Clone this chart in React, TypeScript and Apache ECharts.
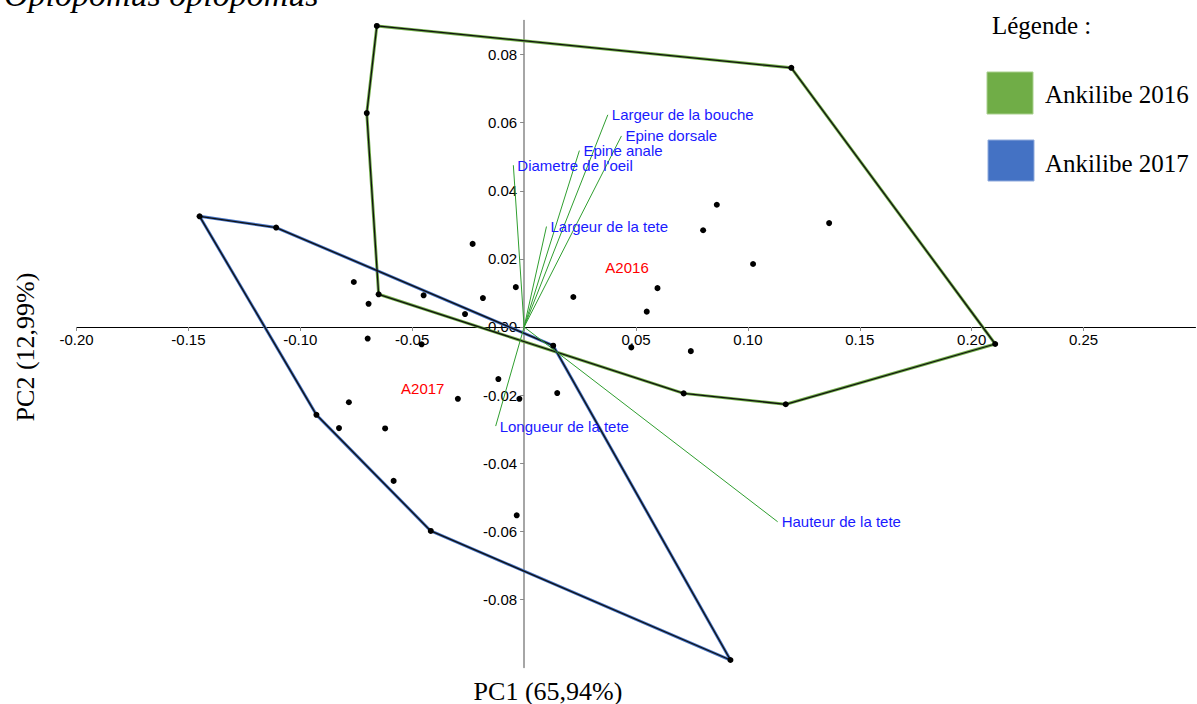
import React, { useEffect, useRef } from "react";
import * as echarts from "echarts";

// ---- Data (PC1, PC2 scores) ----
// Ankilibe 2016: first 7 points are the convex hull vertices
const points2016: number[][] = [
  [-0.0658, 0.0884], [-0.0703, 0.0628], [-0.065, 0.0096], [0.0713, -0.0195],
  [0.1169, -0.0227], [0.2105, -0.005], [0.1194, 0.0761],
  [0.0861, 0.0359], [0.08, 0.0284], [0.1363, 0.0305], [0.1023, 0.0185],
  [0.0596, 0.0114], [0.0548, 0.0045], [0.022, 0.0088], [0.0479, -0.006],
  [0.0745, -0.0071], [-0.0037, 0.0117], [-0.023, 0.0244], [-0.0184, 0.0085],
  [-0.0449, 0.0093],
];
const hull2016: number[] = [0, 1, 2, 3, 4, 5, 6, 0];

// Ankilibe 2017: first 6 points are the convex hull vertices
const points2017: number[][] = [
  [-0.145, 0.0325], [-0.1108, 0.0292], [0.013, -0.0055], [0.0922, -0.0978],
  [-0.0417, -0.0599], [-0.0928, -0.0258],
  [-0.0761, 0.0132], [-0.0695, 0.0068], [-0.0699, -0.0034], [-0.0458, -0.0051],
  [-0.0264, 0.0038], [-0.0115, -0.0153], [0.0148, -0.0194], [-0.0296, -0.0211],
  [-0.0021, -0.0211], [-0.0783, -0.0221], [-0.0827, -0.0297], [-0.0621, -0.0298],
  [-0.0583, -0.0452], [-0.0033, -0.0553],
];
const hull2017: number[] = [0, 1, 2, 3, 4, 5, 0];

// Variable loadings
const loadingNames: string[] = [
  "Largeur de la bouche", "Epine dorsale", "Epine anale", "Diametre de l'oeil",
  "Largeur de la tete", "Longueur de la tete", "Hauteur de la tete",
];
const loadingPC1: number[] = [0.0374, 0.0435, 0.0247, -0.0048, 0.01, -0.0127, 0.1133];
const loadingPC2: number[] = [0.0623, 0.0561, 0.0518, 0.0475, 0.0295, -0.0291, -0.0572];

// Group labels
const groupNames: string[] = ["A2016", "A2017"];
const groupPC1: number[] = [0.046, -0.0453];
const groupPC2: number[] = [0.0176, -0.0182];

const legendNames: string[] = ["Ankilibe 2016", "Ankilibe 2017"];
const groupColors: string[] = ["#70AD47", "#4472C4"];

// Axis ranges
const X_MIN = -0.2, X_MAX = 0.3, X_STEP = 0.05;
const Y_MIN = -0.1, Y_MAX = 0.09, Y_STEP = 0.02;

const SANS = "'Liberation Sans', Arial, Helvetica, sans-serif";
const SERIF = "'Liberation Serif', 'Times New Roman', serif";

const near = (a: number, b: number) => Math.abs(a - b) < 1e-9;

export default function App() {
  const ref = useRef<HTMLDivElement>(null);

  useEffect(() => {
    if (!ref.current) return;
    const chart = echarts.init(ref.current, undefined, { renderer: "svg" });

    const W = 1197, H = 704;
    const gLeft = 76.5, gRight = 1.5, gTop = 20.5, gBottom = 36.5;
    const gW = W - gLeft - gRight;
    const gH = H - gTop - gBottom;
    // place axes through the origin (labels follow)
    const xAxisOffset = -((0 - Y_MIN) / (Y_MAX - Y_MIN)) * gH;
    const yAxisOffset = -((0 - X_MIN) / (X_MAX - X_MIN)) * gW;

    const hullSeries = (pts: number[][], order: number[], color: string, name: string) => [
      {
        name: name + " hull",
        type: "line",
        data: order.map((i) => pts[i]),
        symbol: "none",
        silent: true,
        z: 2,
        lineStyle: { color, width: 3, opacity: 1 },
      },
      {
        name: name + " hull outline",
        type: "line",
        data: order.map((i) => pts[i]),
        symbol: "none",
        silent: true,
        z: 3,
        lineStyle: { color: "#111", width: 1.3, opacity: 1 },
      },
    ];

    const loadingLines = loadingNames.map((n, i) => ({
      name: n,
      type: "line",
      data: [
        [0, 0],
        [loadingPC1[i], loadingPC2[i]],
      ],
      symbol: "none",
      silent: true,
      z: 4,
      lineStyle: { color: "#2f9e2f", width: 1, opacity: 1 },
    }));

    const option: any = {
      animation: false,
      backgroundColor: "#fff",
      grid: { left: gLeft, right: gRight, top: gTop, bottom: gBottom, containLabel: false, outerBoundsMode: "none" },
      xAxis: {
        type: "value",
        min: X_MIN,
        max: X_MAX,
        interval: X_STEP,
        offset: xAxisOffset,
        axisLine: { show: true, onZero: false, lineStyle: { color: "#000", width: 1 } },
        axisTick: { show: true, length: 4, lineStyle: { color: "#888" } },
        axisLabel: {
          show: true,
          margin: 5,
          fontSize: 15,
          fontFamily: SANS,
          color: "#000",
          showMaxLabel: false,
          formatter: (v: number) => (near(v, 0) || v > X_MAX - 0.01 ? "" : v.toFixed(2)),
        },
        splitLine: { show: false },
      },
      yAxis: {
        type: "value",
        min: Y_MIN,
        max: Y_MAX,
        interval: Y_STEP,
        offset: yAxisOffset,
        axisLine: { show: true, onZero: false, lineStyle: { color: "#888", width: 1.5 } },
        axisTick: { show: true, length: 4, lineStyle: { color: "#888" } },
        axisLabel: {
          show: true,
          margin: 7,
          fontSize: 15,
          fontFamily: SANS,
          color: "#000",
          showMinLabel: false,
          showMaxLabel: false,
          formatter: (v: number) =>
            v < Y_MIN + 0.001 || v > Y_MAX - 0.005 ? "" : v.toFixed(2),
        },
        splitLine: { show: false },
      },
      series: [
        ...hullSeries(points2016, hull2016, groupColors[0], legendNames[0]),
        ...hullSeries(points2017, hull2017, groupColors[1], legendNames[1]),
        ...loadingLines,
        {
          name: legendNames[0],
          type: "scatter",
          data: points2016,
          symbol: "circle",
          symbolSize: 6,
          z: 6,
          itemStyle: { color: "#000", opacity: 1 },
        },
        {
          name: legendNames[1],
          type: "scatter",
          data: points2017,
          symbol: "circle",
          symbolSize: 6,
          z: 6,
          itemStyle: { color: "#000", opacity: 1 },
        },
        {
          name: "Variables",
          type: "scatter",
          symbolSize: 0,
          z: 7,
          itemStyle: { opacity: 1 },
          data: loadingNames.map((n, i) => ({ name: n, value: [loadingPC1[i], loadingPC2[i]] })),
          label: {
            show: true,
            position: "right",
            distance: 4,
            formatter: (p: any) => p.name,
            color: "#1a1aff",
            opacity: 1,
            fontSize: 15,
            fontFamily: SANS,
          },
        },
        {
          name: "Groupes",
          type: "scatter",
          symbolSize: 0,
          z: 7,
          itemStyle: { opacity: 1 },
          data: groupNames.map((n, i) => ({ name: n, value: [groupPC1[i], groupPC2[i]] })),
          label: {
            show: true,
            position: "inside",
            formatter: (p: any) => p.name,
            color: "#ff0000",
            opacity: 1,
            fontSize: 15,
            fontFamily: SANS,
          },
        },
      ],
      graphic: [
        {
          type: "text",
          x: 4,
          y: -6,
          style: {
            text: "Oplopomus oplopomus",
            fontFamily: SERIF,
            fontStyle: "italic",
            fontSize: 34,
            fill: "#000",
            align: "left",
            verticalAlign: "middle",
          },
        },
        {
          type: "text",
          x: 548,
          y: 691,
          style: {
            text: "PC1 (65,94%)",
            fontFamily: SERIF,
            fontSize: 26,
            fill: "#000",
            align: "center",
            verticalAlign: "middle",
          },
        },
        {
          type: "text",
          x: 25,
          y: 347,
          rotation: Math.PI / 2,
          style: {
            text: "PC2 (12,99%)",
            fontFamily: SERIF,
            fontSize: 26,
            fill: "#000",
            align: "center",
            verticalAlign: "middle",
          },
        },
        {
          type: "text",
          x: 992,
          y: 25,
          style: {
            text: "Légende :",
            fontFamily: SERIF,
            fontSize: 25,
            fill: "#000",
            align: "left",
            verticalAlign: "middle",
          },
        },
        {
          type: "rect",
          shape: { x: 987, y: 72, width: 46, height: 42 },
          style: { fill: groupColors[0], stroke: "#a9d08e", lineWidth: 1 },
        },
        {
          type: "text",
          x: 1045,
          y: 94,
          style: {
            text: legendNames[0],
            fontFamily: SERIF,
            fontSize: 25,
            fill: "#000",
            align: "left",
            verticalAlign: "middle",
          },
        },
        {
          type: "rect",
          shape: { x: 988, y: 140, width: 46, height: 41 },
          style: { fill: groupColors[1], stroke: "#8faadc", lineWidth: 1 },
        },
        {
          type: "text",
          x: 1045,
          y: 163,
          style: {
            text: legendNames[1],
            fontFamily: SERIF,
            fontSize: 25,
            fill: "#000",
            align: "left",
            verticalAlign: "middle",
          },
        },
      ],
    };

    chart.setOption(option);
    return () => chart.dispose();
  }, []);

  return (
    <div
      ref={ref}
      style={{ position: "fixed", left: 0, top: 0, width: 1197, height: 704, background: "#fff" }}
    />
  );
}
